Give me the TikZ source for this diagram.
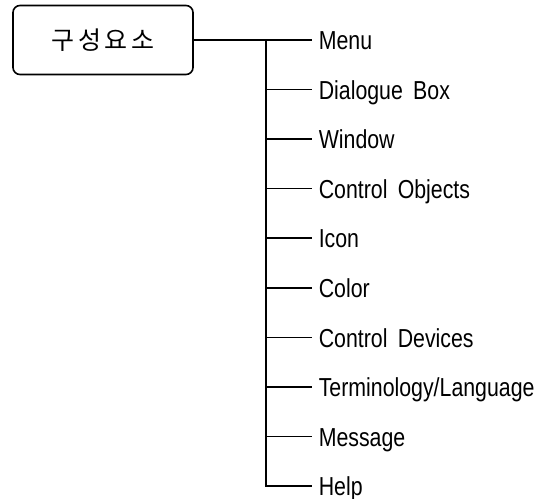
\documentclass[tikz,border=0pt]{standalone}
\usepackage{fontspec}
\setmainfont{Liberation Sans}[FakeStretch=0.82]
\newfontfamily\cjk{Noto Sans CJK KR}
\usetikzlibrary{calc}

\begin{document}
\begin{tikzpicture}[-,shorten >=6pt,line width=1.6pt,
    main node/.style={draw,rounded corners=7pt,minimum width=180pt,minimum height=69pt,font=\cjk\fontsize{25pt}{30pt}\selectfont},
    item node/.style={anchor=west,inner sep=0pt,text height=19.5pt,text depth=0pt,font=\fontsize{26pt}{30pt}\selectfont}]

    \useasboundingbox (0,0) rectangle (553pt,-498pt);

    \node (1) [main node] at (103pt,-40pt){구\hspace{3.5pt}성\hspace{3.5pt}요\hspace{3.5pt}소};

    \coordinate (t) at (266pt,-40pt);

    \node (2) [item node] at (318pt,-40pt){Menu};
    \node (3) [item node] at ($(2.west)+(0,-49.56pt)$){Dialogue\ \,Box};
    \node (4) [item node] at ($(3.west)+(0,-49.56pt)$){Window};
    \node (5) [item node] at ($(4.west)+(0,-49.56pt)$){Control\ \,Objects};
    \node (6) [item node] at ($(5.west)+(0,-49.56pt)$){Icon};
    \node (7) [item node] at ($(6.west)+(0,-49.56pt)$){Color};
    \node (8) [item node] at ($(7.west)+(0,-49.56pt)$){Control\ \,Devices};
    \node (9) [item node] at ($(8.west)+(0,-49.56pt)$){Terminology/Language};
    \node (10) [item node] at ($(9.west)+(0,-49.56pt)$){Message};
    \node (11) [item node] at ($(10.west)+(0,-49.56pt)$){Help};

    \draw (t) |- (11);

    \path
        (1) edge (2)

        (t |- 3) edge (3)
        (t |- 4) edge (4)
        (t |- 5) edge (5)
        (t |- 6) edge (6)
        (t |- 7) edge (7)
        (t |- 8) edge (8)
        (t |- 9) edge (9)
        (t |- 10) edge (10)
    ;
\end{tikzpicture}
\end{document}
